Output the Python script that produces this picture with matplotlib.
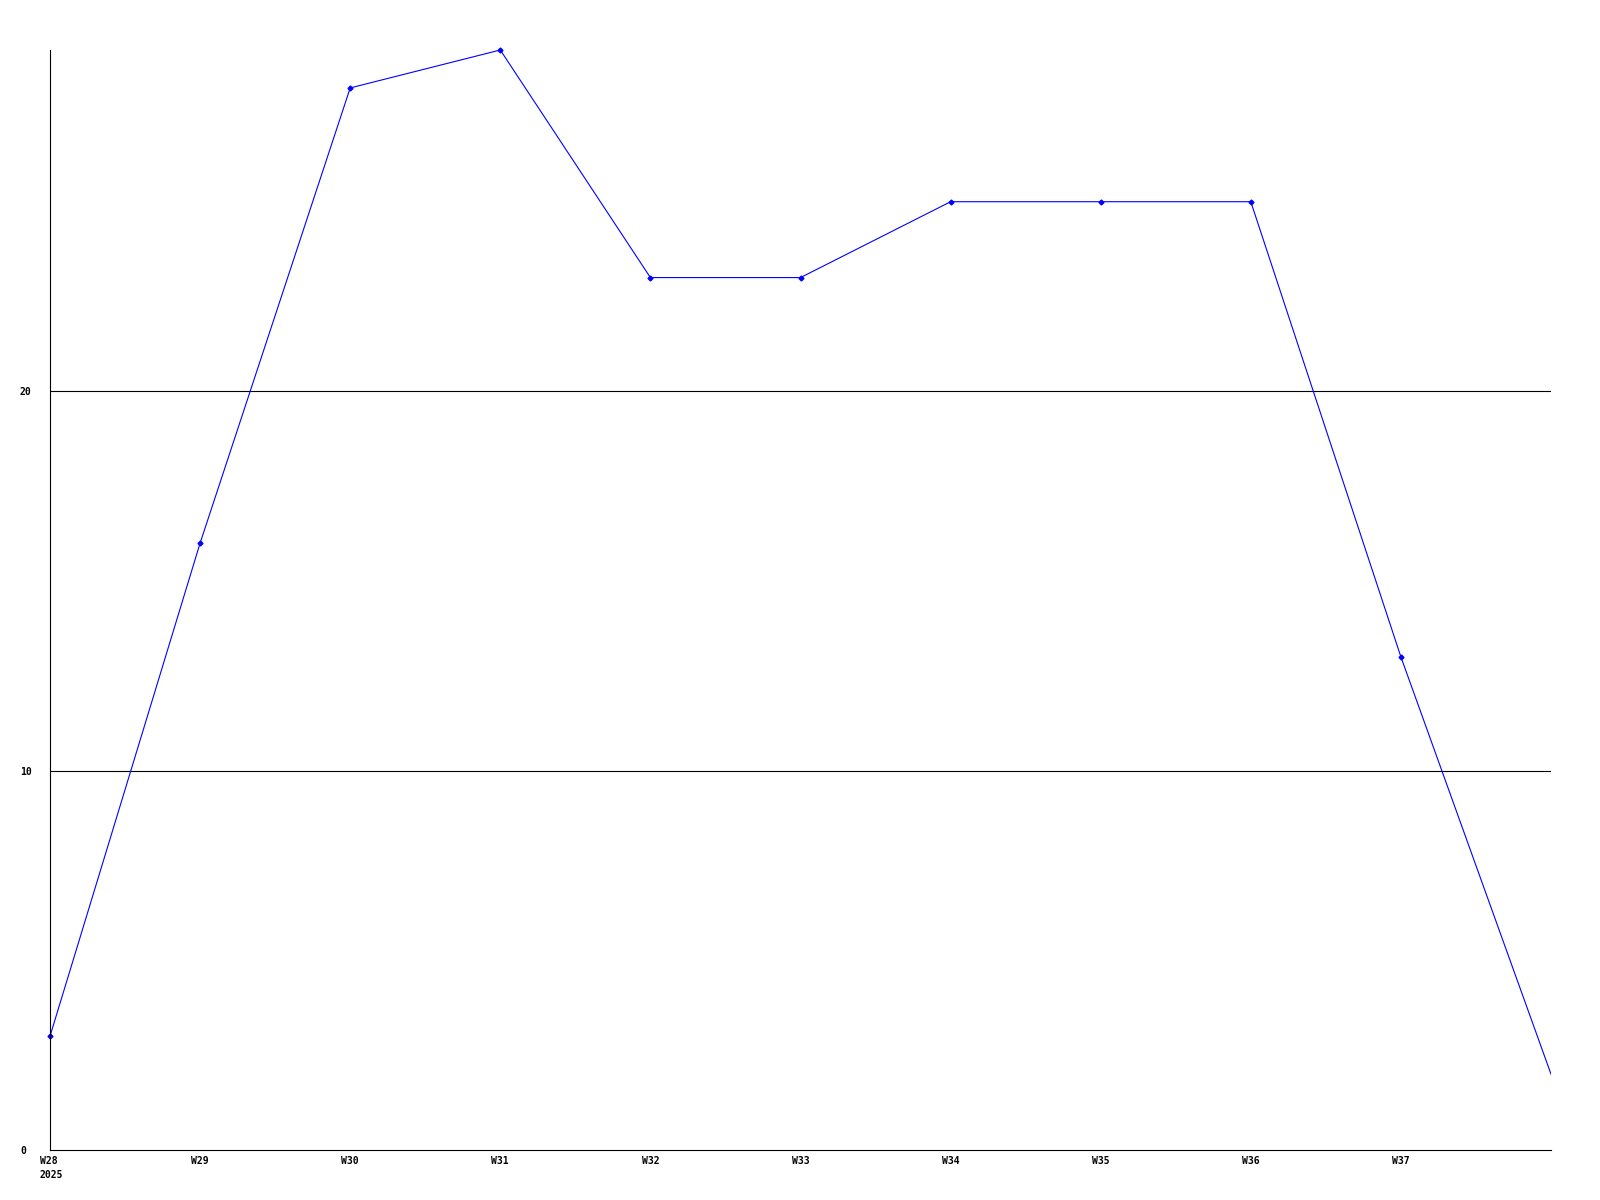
import matplotlib
matplotlib.use("Agg")
import matplotlib.pyplot as plt
import matplotlib.transforms as mtransforms

# weekly values
weeks = ["W28", "W29", "W30", "W31", "W32", "W33", "W34", "W35", "W36", "W37", "W38"]
values = [3, 16, 28, 29, 23, 23, 25, 25, 25, 13, 2]
year_label = "2025"
y_ticks = [0, 10, 20]

fig = plt.figure(figsize=(16, 12), dpi=100)
ax = fig.add_axes([50 / 1600, 50 / 1200, 1501 / 1600, 1100 / 1200])

x = list(range(len(weeks)))
ax.plot(x, values, color="#0000ff", linewidth=0.8)
# the last point sits on the right edge, no marker drawn there
ax.plot(x[:-1], values[:-1], linestyle="none", marker="D", markersize=2.5,
        color="#0000ff", clip_on=False)

ax.set_xlim(0, len(weeks) - 1)
ax.set_ylim(0, 29)

for v in y_ticks[1:]:
    ax.axhline(v, color="black", linewidth=0.8, zorder=0)

ax.set_yticks(y_ticks)
ax.set_yticklabels([str(v) for v in y_ticks], family="DejaVu Sans Mono",
                   fontsize=7, fontweight="bold", ha="left")
ax.tick_params(axis="y", length=0, pad=21.6)

xlabels = [w for w in weeks[:-1]]
xlabels[0] = xlabels[0] + "\n" + year_label
ax.set_xticks(x[:-1])
ax.set_xticklabels(xlabels, family="DejaVu Sans Mono", fontsize=7,
                   fontweight="bold", linespacing=1.5)
ax.tick_params(axis="x", length=0, pad=4)

# first label (with year) starts a bit left of its tick
first = ax.get_xticklabels()[0]
first.set_horizontalalignment("left")
first.set_multialignment("left")
first.set_transform(first.get_transform() +
                    mtransforms.ScaledTranslation(-0.1, 0, fig.dpi_scale_trans))

ax.spines["top"].set_visible(False)
ax.spines["right"].set_visible(False)
ax.spines["left"].set_linewidth(0.8)
ax.spines["bottom"].set_linewidth(0.8)

fig.savefig("out.png", dpi=100)
